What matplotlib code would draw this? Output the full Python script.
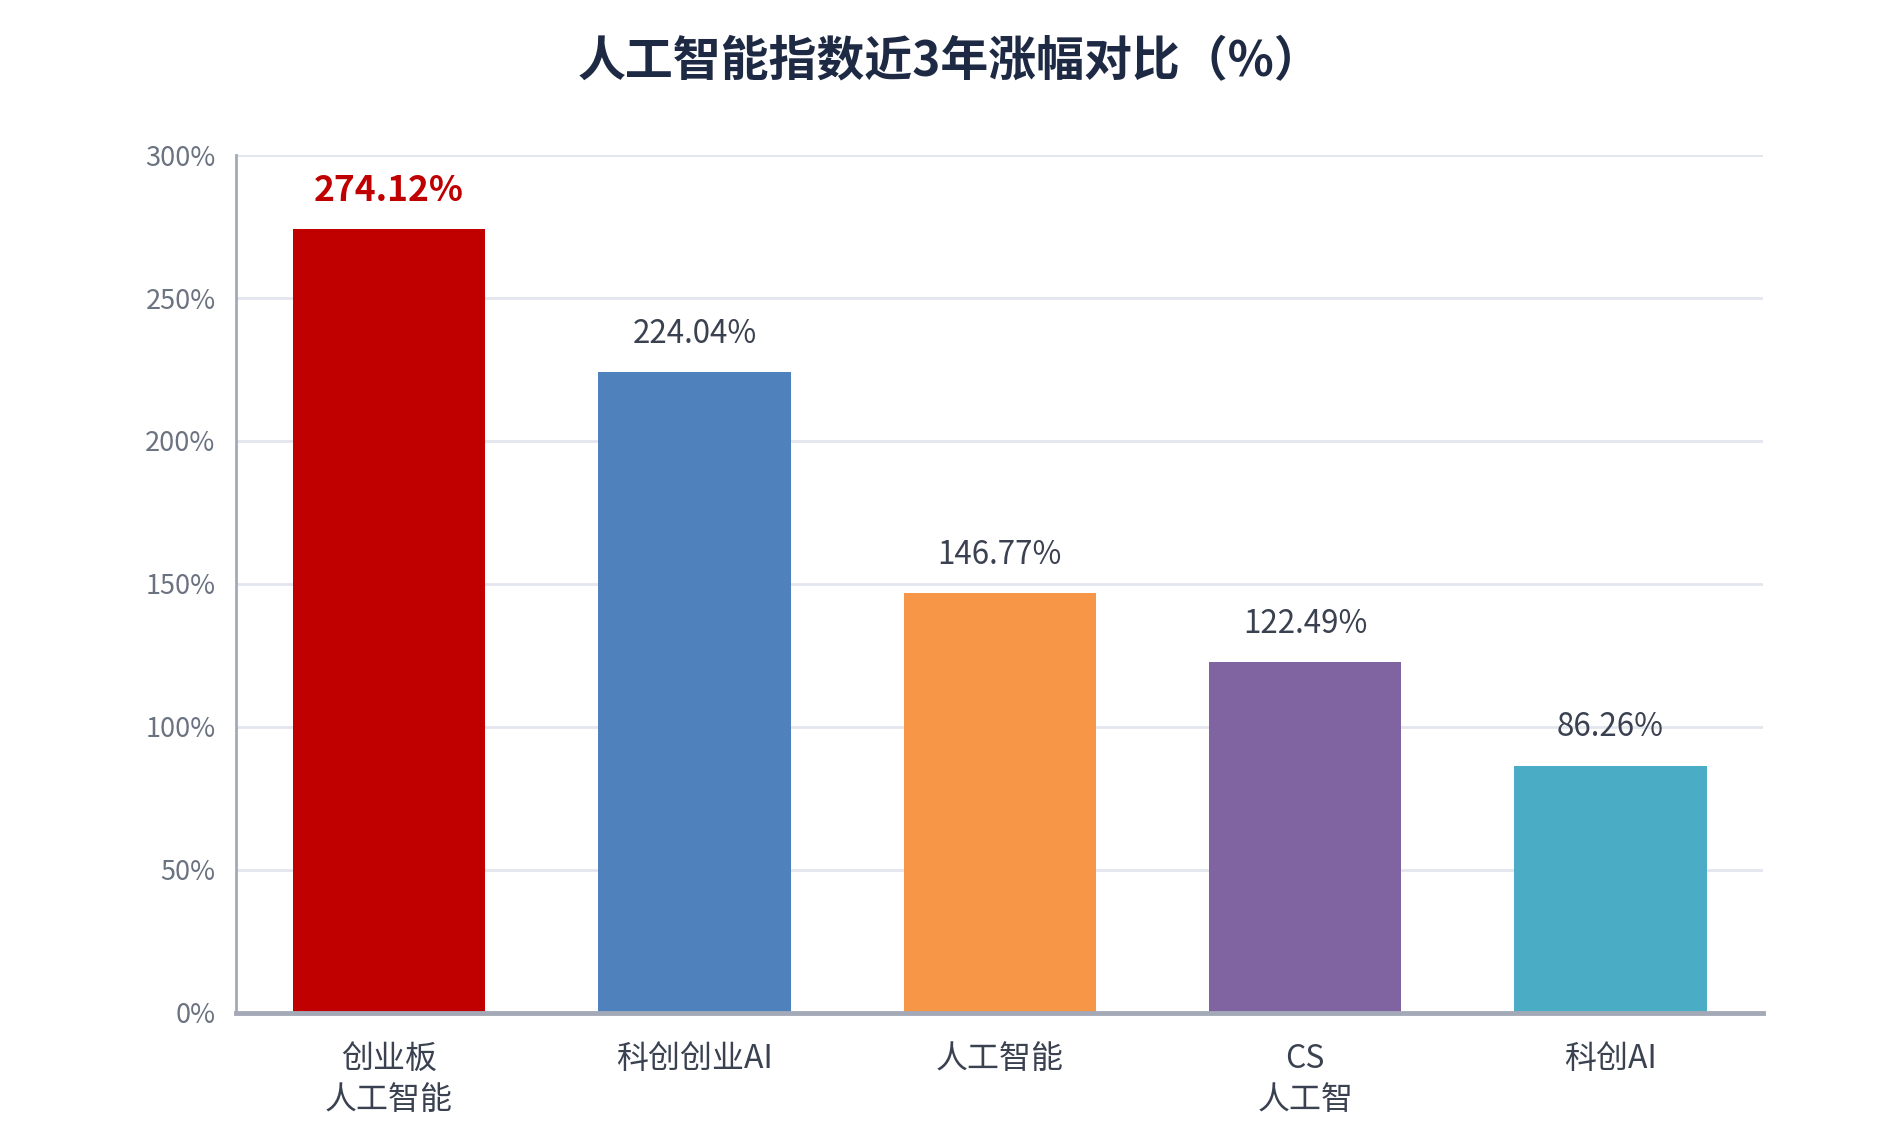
import matplotlib.pyplot as plt

plt.rcParams['font.family'] = ['Noto Sans CJK SC', 'DejaVu Sans']

categories = ['创业板\n人工智能', '科创创业AI', '人工智能', 'CS\n人工智', '科创AI']
values = [274.12, 224.04, 146.77, 122.49, 86.26]
colors = ['#C00000', '#4F81BD', '#F79646', '#8064A2', '#4BACC6']
yticks = [0, 50, 100, 150, 200, 250, 300]

fig = plt.figure(figsize=(19, 11.25), dpi=100)
ax = fig.add_axes([0.1244, 0.100, 0.8036, 0.762])

x = range(len(categories))
bars = ax.bar(x, values, width=0.63, color=colors, zorder=3)

ax.set_xlim(-0.5, len(categories) - 0.5)
ax.set_ylim(0, 300)
ax.set_yticks(yticks)
ax.set_yticklabels([f'{t}%' for t in yticks], fontsize=19.5, color='#6B7280')
ax.set_xticks(list(x))
ax.set_xticklabels(categories, fontsize=23, color='#3A4150', linespacing=1.36)
ax.tick_params(axis='both', length=0)
ax.tick_params(axis='x', pad=22)
ax.tick_params(axis='y', pad=15)

ax.grid(axis='y', color='#E3E6EE', linewidth=2, zorder=0)
for s in ['top', 'right']:
    ax.spines[s].set_visible(False)
ax.spines['left'].set_color('#A3A9B6')
ax.spines['left'].set_linewidth(2)
ax.spines['bottom'].set_color('#A3A9B6')
ax.spines['bottom'].set_linewidth(3.5)
ax.spines['bottom'].set_zorder(4)

for i, (b, v) in enumerate(zip(bars, values)):
    if i == 0:
        ax.text(b.get_x() + b.get_width() / 2, v + 13.5, f'{v:.2f}%', ha='center', va='center',
                fontsize=25.5, fontweight='bold', color='#C00000')
    else:
        ax.text(b.get_x() + b.get_width() / 2, v + 13.5, f'{v:.2f}%', ha='center', va='center',
                fontsize=22.5, color='#3A4150')

fig.text(0.5, 0.945, '人工智能指数近3年涨幅对比（%）', ha='center', va='center',
         fontsize=34.5, fontweight='bold', color='#1E2A44')

fig.savefig('out.png')
